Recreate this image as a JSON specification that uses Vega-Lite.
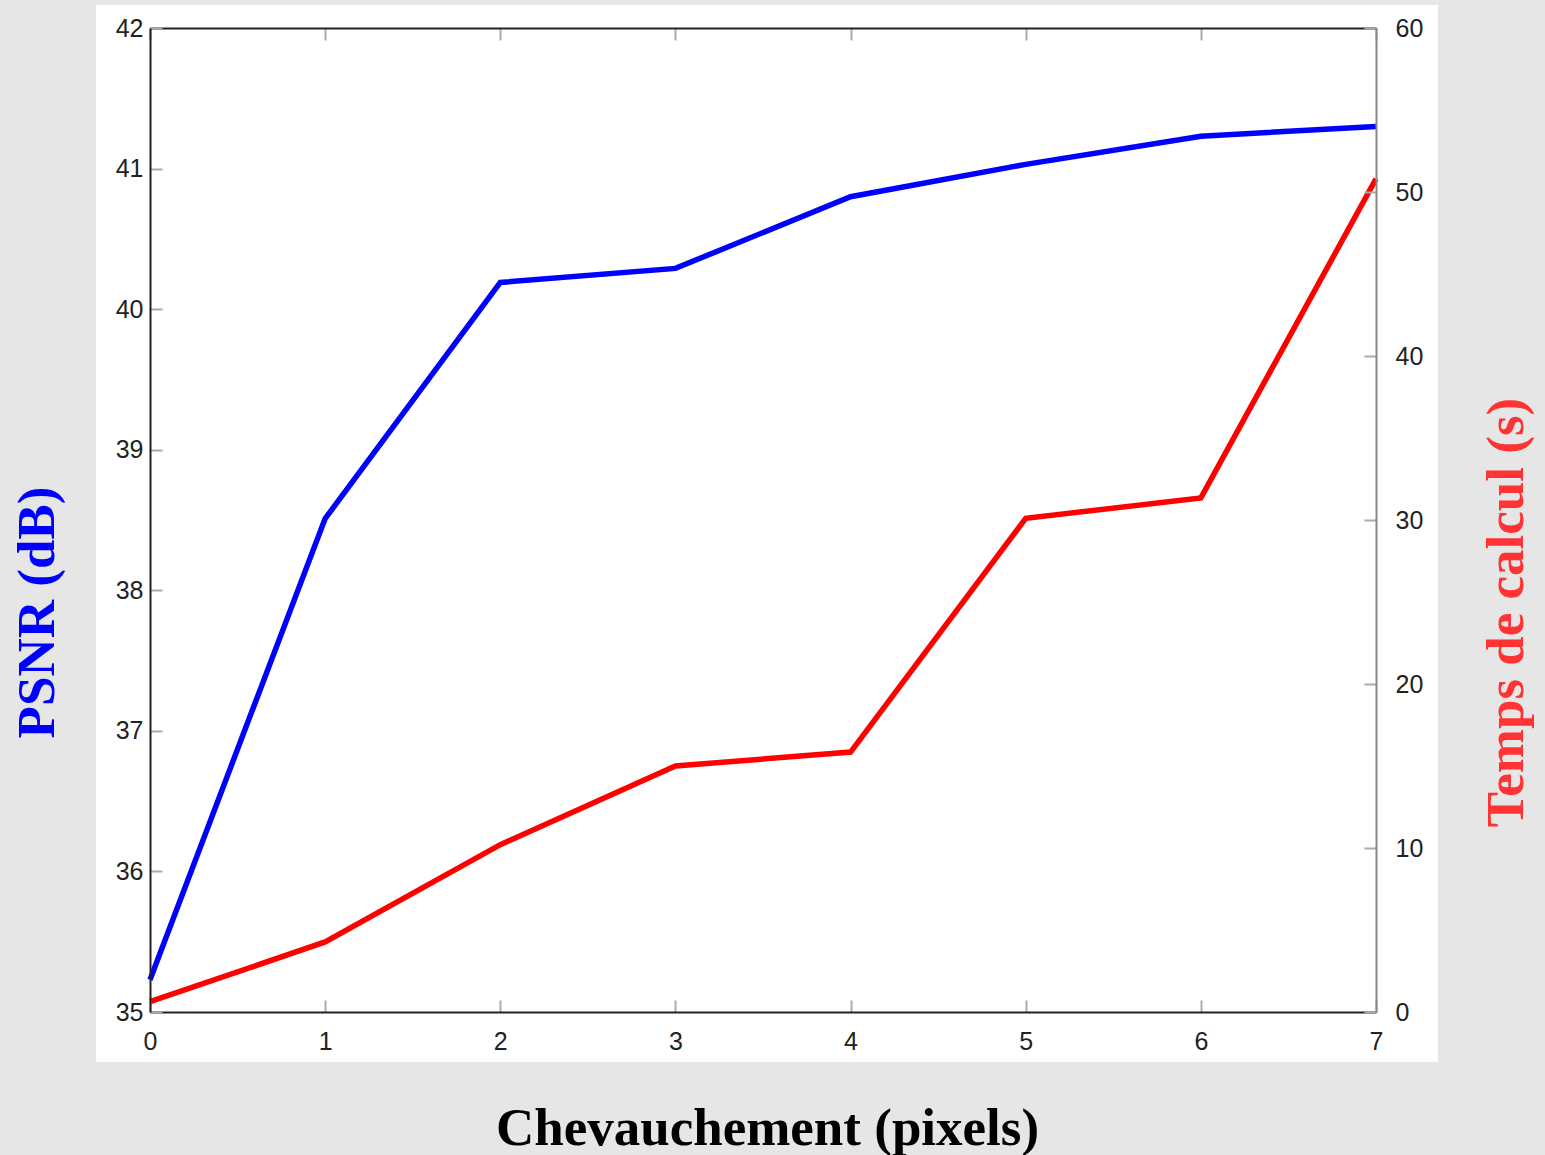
{
  "$schema": "https://vega.github.io/schema/vega-lite/v6.json",
  "width": 1226,
  "height": 984,
  "autosize": "none",
  "padding": {"left": 150, "top": 28, "right": 169, "bottom": 143},
  "background": "#e6e6e6",
  "config": {
    "view": {"stroke": null, "fill": "white"},
    "axis": {
      "grid": false,
      "labelFont": "Liberation Sans",
      "labelFontSize": 25,
      "labelColor": "#222222",
      "tickColor": "#aaaaaa",
      "tickWidth": 2,
      "tickSize": -12,
      "domainColor": "#222222",
      "domainWidth": 2,
      "titleFont": "Liberation Serif",
      "titleFontWeight": "bold",
      "titleFontSize": 53
    }
  },
  "data": {
    "values": [
      {"x": 0, "psnr": 35.23, "temps": 0.63},
      {"x": 1, "psnr": 38.51, "temps": 4.27},
      {"x": 2, "psnr": 40.19, "temps": 10.2},
      {"x": 3, "psnr": 40.29, "temps": 15.0},
      {"x": 4, "psnr": 40.8, "temps": 15.85},
      {"x": 5, "psnr": 41.03, "temps": 30.1},
      {"x": 6, "psnr": 41.23, "temps": 31.35},
      {"x": 7, "psnr": 41.3, "temps": 50.8}
    ]
  },
  "layer": [
    {
      "layer": [
        {
          "mark": {"type": "rect", "fill": "white", "clip": false},
          "encoding": {
            "x": {"datum": -0.308, "type": "quantitative"},
            "x2": {"datum": 7.354},
            "y": {"datum": 42.164, "type": "quantitative"},
            "y2": {"datum": 34.644}
          }
        },
        {
          "mark": {"type": "line", "color": "#0000ff", "strokeWidth": 5.5, "clip": false},
          "encoding": {
            "x": {"field": "x", "type": "quantitative"},
            "y": {"field": "psnr", "type": "quantitative"}
          }
        }
      ],
      "encoding": {
        "x": {
          "type": "quantitative",
          "scale": {"domain": [0, 7], "nice": false, "zero": false},
          "axis": {
            "zindex": 3,
            "orient": "bottom",
            "values": [0, 1, 2, 3, 4, 5, 6, 7],
            "labelPadding": 29,
            "labelFlush": false,
            "title": "Chevauchement (pixels)",
            "titleColor": "#000000",
            "titleBaseline": "alphabetic",
            "titleAlign": "center",
            "titleX": 617,
            "titleY": 132
          }
        },
        "y": {
          "type": "quantitative",
          "scale": {"domain": [35, 42], "nice": false, "zero": false},
          "axis": {
            "zindex": 3,
            "orient": "left",
            "values": [35, 36, 37, 38, 39, 40, 41, 42],
            "labelPadding": 19,
            "title": "PSNR (dB)",
            "titleColor": "#0000ff",
            "titleAngle": -90,
            "titleBaseline": "alphabetic",
            "titleAlign": "center",
            "titleX": -97,
            "titleY": 584
          }
        }
      }
    },
    {
      "mark": {"type": "line", "color": "#ff0000", "strokeWidth": 5.5, "clip": false},
      "encoding": {
        "x": {
          "field": "x",
          "type": "quantitative",
          "scale": {"domain": [0, 7], "nice": false, "zero": false},
          "axis": {
            "zindex": 3,
            "orient": "top",
            "values": [0, 1, 2, 3, 4, 5, 6, 7],
            "labels": false,
            "title": null
          }
        },
        "y": {
          "field": "temps",
          "type": "quantitative",
          "scale": {"domain": [0, 60], "nice": false, "zero": false},
          "axis": {
            "zindex": 3,
            "orient": "right",
            "values": [0, 10, 20, 30, 40, 50, 60],
            "labelPadding": 31,
            "domainColor": "#888888",
            "title": "Temps de calcul (s)",
            "titleColor": "#ff3333",
            "titleAngle": -90,
            "titleBaseline": "alphabetic",
            "titleAlign": "center",
            "titleX": 146,
            "titleY": 584
          }
        }
      }
    }
  ],
  "resolve": {
    "scale": {"x": "independent", "y": "independent"},
    "axis": {"x": "independent", "y": "independent"}
  }
}
